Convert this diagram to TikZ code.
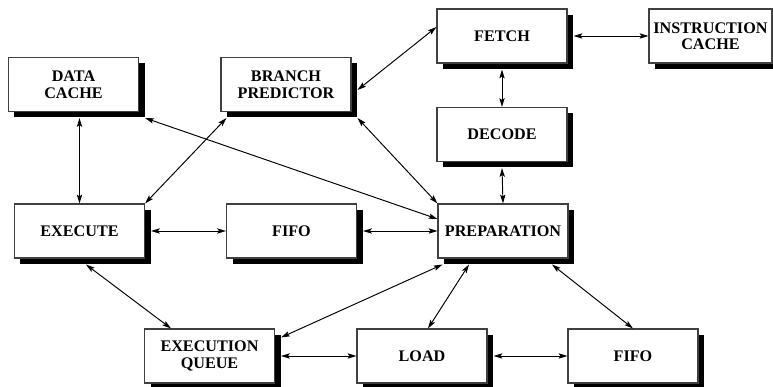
\documentclass[tikz,border=0pt]{standalone}
\usepackage{fontspec}
\setmainfont{Liberation Serif}
\usepackage{tikz}
\usetikzlibrary{calc,shadows,arrows.meta}

\begin{document}
\begin{tikzpicture}[
  block/.style={draw=black!75, line width=0.6pt, fill=white, minimum width=2.6cm, minimum height=1.08cm,
    inner sep=1pt, align=center, font=\bfseries\fontsize{9.2}{9.4}\selectfont,
    drop shadow={shadow xshift=0.12cm, shadow yshift=-0.12cm, fill=black, opacity=1}},
  link/.style={{Stealth[length=5pt,width=3pt,inset=1pt]}-{Stealth[length=5pt,width=3pt,inset=1pt]}, line width=0.55pt}]
\useasboundingbox (0,0) rectangle (15.46,-7.74);
\coordinate (dcpos) at (1.47,-1.69);
\coordinate (bppos) at (5.72,-1.69);
\coordinate (fepos) at (10.04,-0.72);
\coordinate (icpos) at (14.21,-0.72);
\coordinate (depos) at (10.04,-2.69);
\coordinate (expos) at (1.59,-4.62);
\coordinate (fapos) at (5.83,-4.62);
\coordinate (prpos) at (10.06,-4.62);
\coordinate (eqpos) at (4.19,-7.12);
\coordinate (ldpos) at (8.44,-7.12);
\coordinate (fbpos) at (12.66,-7.12);

\node[block] (dcache) at (dcpos) {DATA\\CACHE};
\node[block] (bpred) at (bppos) {BRANCH\\PREDICTOR};
\node[block] (fetch) at (fepos) {FETCH};
\node[block, minimum width=2.46cm] (icache) at (icpos) {INSTRUCTION\\CACHE};
\node[block] (decode) at (depos) {DECODE};
\node[block] (execute) at (expos) {EXECUTE};
\node[block] (fifoA) at (fapos) {FIFO};
\node[block] (prep) at (prpos) {PREPARATION};
\node[block] (equeue) at (eqpos) {EXECUTION\\QUEUE};
\node[block] (load) at (ldpos) {LOAD};
\node[block] (fifoB) at (fbpos) {FIFO};

% upper part
\draw[link] ($(fetch.west)+(0,0.18)$) to ($(bpred.east)+(0.12,-0.11)$);
\draw[link] ($(fetch.east)+(0.12,0)$) to (icache.west);
\draw[link] ($(fetch.south)+(0,-0.12)$) to (decode.north);
\draw[link] ($(decode.south)+(0,-0.12)$) to (prep.north);
\draw[link] ($(dcache.south -| execute.north)+(0,-0.12)$) to (execute.north);
\draw[link] ($(bpred.south west)+(0.12,-0.12)$) to (execute.north east);
\draw[link] ($(dcache.south east)+(0.12,-0.12)$) to ($(prep.west)+(0,0.24)$);
\draw[link] ($(bpred.south east)+(0.12,-0.12)$) to (prep.north west);

% middle row
\draw[link] ($(execute.east)+(0.12,0)$) to (fifoA.west);
\draw[link] ($(fifoA.east)+(0.12,0)$) to (prep.west);

% lower part
\draw[link] ($(execute.south)+(0.13,-0.12)$) to ($(equeue.north)+(-0.77,0)$);
\draw[link] ($(prep.south west)+(0.1,-0.12)$) to ($(equeue.north east)+(0.12,-0.18)$);
\draw[link] ($(prep.south)+(-0.68,-0.12)$) to ($(load.north)+(0.12,0)$);
\draw[link] ($(prep.south)+(0.98,-0.12)$) to (fifoB.north);
\draw[link] ($(equeue.east)+(0.12,0)$) to (load.west);
\draw[link] ($(load.east)+(0.12,0)$) to (fifoB.west);
\end{tikzpicture}
\end{document}
